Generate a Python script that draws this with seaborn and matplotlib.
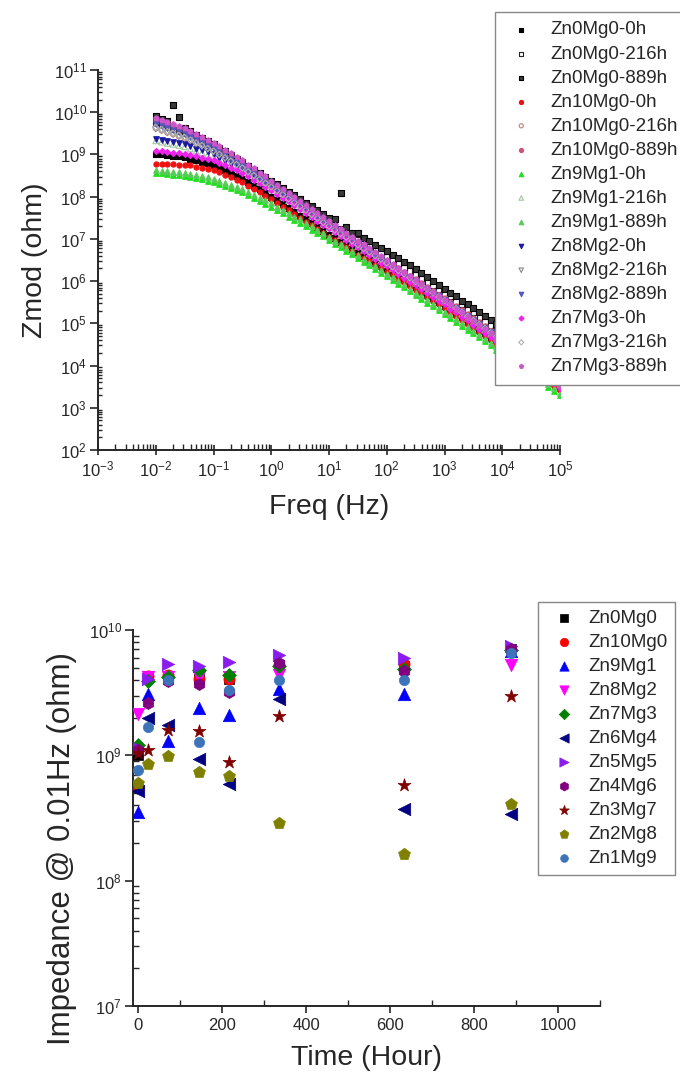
import numpy as np
import pandas as pd
import matplotlib
matplotlib.use("Agg")
import matplotlib.pyplot as plt
import seaborn as sns
from matplotlib.ticker import LogLocator, MultipleLocator, NullFormatter

# ---------------------------------------------------------------- data
# Bode sweep: log10 of frequency (Hz), 10 points per decade
log_freq = [-2.0, -1.9, -1.8, -1.7, -1.6, -1.5, -1.4, -1.3, -1.2, -1.1,
            -1.0, -0.9, -0.8, -0.7, -0.6, -0.5, -0.4, -0.3, -0.2, -0.1,
            0.0, 0.1, 0.2, 0.3, 0.4, 0.5, 0.6, 0.7, 0.8, 0.9,
            1.0, 1.1, 1.2, 1.3, 1.4, 1.5, 1.6, 1.7, 1.8, 1.9,
            2.0, 2.1, 2.2, 2.3, 2.4, 2.5, 2.6, 2.7, 2.8, 2.9,
            3.0, 3.1, 3.2, 3.3, 3.4, 3.5, 3.6, 3.7, 3.8, 3.9,
            4.0, 4.1, 4.2, 4.3, 4.4, 4.5, 4.6, 4.7, 4.8, 4.9, 5.0]

# log10 |Z| (ohm) for each coating and immersion time
zn0mg0_0h = [9.02, 9.00, 8.99, 8.97, 8.96, 8.94, 8.90, 8.87, 8.83, 8.79,
             8.76, 8.69, 8.62, 8.56, 8.49, 8.42, 8.34, 8.25, 8.17, 8.08,
             8.00, 7.91, 7.82, 7.73, 7.64, 7.55, 7.46, 7.37, 7.28, 7.19,
             7.10, 7.02, 6.93, 6.85, 6.76, 6.68, 6.60, 6.52, 6.44, 6.36,
             6.28, 6.19, 6.11, 6.02, 5.94, 5.85, 5.76, 5.68, 5.59, 5.51,
             5.42, 5.33, 5.23, 5.14, 5.04, 4.95, 4.85, 4.76, 4.66, 4.57,
             4.47, 4.37, 4.27, 4.18, 4.08, 3.98, 3.88, 3.78, 3.68, 3.58, 3.48]
zn0mg0_216h = [9.75, 9.70, 9.65, 9.60, 9.55, 9.50, 9.44, 9.37, 9.31, 9.24,
               9.18, 9.10, 9.02, 8.94, 8.86, 8.78, 8.69, 8.60, 8.50, 8.41,
               8.32, 8.23, 8.14, 8.05, 7.96, 7.87, 7.78, 7.69, 7.60, 7.51,
               7.42, 7.33, 7.25, 7.16, 7.08, 6.99, 6.91, 6.83, 6.74, 6.66,
               6.58, 6.50, 6.41, 6.33, 6.24, 6.16, 6.07, 5.98, 5.90, 5.81,
               5.72, 5.63, 5.53, 5.44, 5.34, 5.25, 5.15, 5.05, 4.96, 4.86,
               4.76, 4.66, 4.56, 4.46, 4.36, 4.26, 4.16, 4.06, 3.95, 3.85, 3.75]
zn0mg0_889h = [9.90, 9.85, 9.80, 10.17, 9.88, 9.62, 9.55, 9.47, 9.39, 9.32,
               9.24, 9.16, 9.07, 8.99, 8.90, 8.82, 8.73, 8.64, 8.56, 8.47,
               8.38, 8.29, 8.21, 8.12, 8.04, 7.95, 7.86, 7.77, 7.68, 7.59,
               7.50, 7.48, 8.09, 7.29, 7.15, 7.13, 7.02, 6.94, 6.86, 6.79,
               6.72, 6.63, 6.54, 6.46, 6.37, 6.28, 6.19, 6.10, 6.00, 5.91,
               5.82, 5.73, 5.64, 5.54, 5.45, 5.36, 5.26, 5.17, 5.07, 4.98,
               4.88, 4.78, 4.68, 4.58, 4.48, 4.38, 4.28, 4.18, 4.08, 3.98, 3.88]
zn10mg0_0h = [8.78, 8.78, 8.77, 8.77, 8.76, 8.76, 8.74, 8.71, 8.69, 8.66,
              8.64, 8.58, 8.52, 8.46, 8.40, 8.34, 8.26, 8.18, 8.10, 8.02,
              7.94, 7.85, 7.76, 7.68, 7.59, 7.50, 7.41, 7.32, 7.23, 7.14,
              7.05, 6.97, 6.88, 6.80, 6.71, 6.63, 6.55, 6.47, 6.38, 6.30,
              6.22, 6.14, 6.05, 5.97, 5.88, 5.80, 5.71, 5.62, 5.54, 5.45,
              5.36, 5.27, 5.17, 5.08, 4.98, 4.89, 4.79, 4.70, 4.60, 4.51,
              4.41, 4.31, 4.21, 4.12, 4.02, 3.92, 3.82, 3.72, 3.62, 3.52, 3.42]
zn10mg0_216h = [9.62, 9.57, 9.52, 9.48, 9.43, 9.38, 9.32, 9.26, 9.20, 9.14,
                9.08, 9.00, 8.93, 8.85, 8.78, 8.70, 8.61, 8.52, 8.42, 8.33,
                8.24, 8.15, 8.06, 7.96, 7.87, 7.78, 7.69, 7.60, 7.50, 7.41,
                7.32, 7.23, 7.14, 7.06, 6.97, 6.88, 6.79, 6.71, 6.62, 6.54,
                6.45, 6.36, 6.27, 6.19, 6.10, 6.01, 5.92, 5.83, 5.75, 5.66,
                5.57, 5.48, 5.38, 5.29, 5.19, 5.10, 5.00, 4.91, 4.81, 4.72,
                4.62, 4.52, 4.42, 4.32, 4.22, 4.12, 4.02, 3.92, 3.82, 3.72, 3.62]
zn10mg0_889h = [9.85, 9.80, 9.74, 9.69, 9.63, 9.58, 9.51, 9.44, 9.36, 9.29,
                9.22, 9.14, 9.05, 8.97, 8.88, 8.80, 8.71, 8.62, 8.52, 8.43,
                8.34, 8.24, 8.15, 8.05, 7.96, 7.86, 7.76, 7.67, 7.57, 7.48,
                7.38, 7.29, 7.20, 7.10, 7.01, 6.92, 6.83, 6.74, 6.66, 6.57,
                6.48, 6.39, 6.30, 6.22, 6.13, 6.04, 5.95, 5.86, 5.77, 5.68,
                5.59, 5.50, 5.40, 5.31, 5.21, 5.12, 5.02, 4.93, 4.83, 4.74,
                4.64, 4.54, 4.44, 4.34, 4.24, 4.14, 4.04, 3.94, 3.84, 3.74, 3.64]
zn9mg1_0h = [8.56, 8.55, 8.54, 8.52, 8.51, 8.50, 8.47, 8.44, 8.41, 8.38,
             8.35, 8.30, 8.25, 8.20, 8.15, 8.10, 8.03, 7.96, 7.90, 7.83,
             7.76, 7.68, 7.61, 7.53, 7.45, 7.38, 7.30, 7.22, 7.14, 7.06,
             6.98, 6.89, 6.81, 6.72, 6.64, 6.55, 6.46, 6.37, 6.29, 6.20,
             6.11, 6.02, 5.93, 5.85, 5.76, 5.67, 5.58, 5.49, 5.40, 5.31,
             5.22, 5.13, 5.04, 4.94, 4.85, 4.76, 4.67, 4.57, 4.48, 4.38,
             4.29, 4.19, 4.09, 4.00, 3.90, 3.80, 3.70, 3.60, 3.50, 3.40, 3.30]
zn9mg1_216h = [9.32, 9.29, 9.26, 9.24, 9.21, 9.18, 9.13, 9.08, 9.04, 8.99,
               8.94, 8.87, 8.80, 8.74, 8.67, 8.60, 8.51, 8.43, 8.34, 8.26,
               8.17, 8.08, 7.99, 7.90, 7.81, 7.72, 7.63, 7.54, 7.44, 7.35,
               7.26, 7.17, 7.08, 7.00, 6.91, 6.82, 6.73, 6.65, 6.56, 6.48,
               6.39, 6.30, 6.21, 6.13, 6.04, 5.95, 5.86, 5.77, 5.68, 5.59,
               5.50, 5.41, 5.31, 5.22, 5.12, 5.03, 4.93, 4.84, 4.74, 4.65,
               4.55, 4.45, 4.35, 4.25, 4.15, 4.05, 3.95, 3.85, 3.75, 3.65, 3.55]
zn9mg1_889h = [8.62, 8.61, 8.60, 8.59, 8.58, 8.57, 8.54, 8.51, 8.49, 8.46,
               8.43, 8.38, 8.33, 8.28, 8.23, 8.18, 8.11, 8.04, 7.98, 7.91,
               7.84, 7.76, 7.69, 7.61, 7.53, 7.46, 7.38, 7.30, 7.21, 7.13,
               7.05, 6.96, 6.88, 6.79, 6.71, 6.62, 6.53, 6.44, 6.36, 6.27,
               6.18, 6.09, 6.00, 5.91, 5.82, 5.73, 5.64, 5.55, 5.46, 5.37,
               5.28, 5.19, 5.10, 5.00, 4.91, 4.82, 4.73, 4.63, 4.54, 4.44,
               4.35, 4.25, 4.15, 4.06, 3.96, 3.86, 3.76, 3.66, 3.56, 3.46, 3.36]
zn8mg2_0h = [9.36, 9.34, 9.31, 9.29, 9.26, 9.24, 9.19, 9.14, 9.10, 9.05,
             9.00, 8.92, 8.85, 8.77, 8.70, 8.62, 8.53, 8.44, 8.36, 8.27,
             8.18, 8.09, 8.00, 7.90, 7.81, 7.72, 7.63, 7.53, 7.44, 7.34,
             7.25, 7.16, 7.07, 6.99, 6.90, 6.81, 6.72, 6.64, 6.55, 6.47,
             6.38, 6.29, 6.20, 6.12, 6.03, 5.94, 5.85, 5.76, 5.67, 5.58,
             5.49, 5.40, 5.30, 5.21, 5.11, 5.02, 4.92, 4.83, 4.73, 4.64,
             4.54, 4.44, 4.34, 4.24, 4.14, 4.04, 3.94, 3.84, 3.74, 3.64, 3.54]
zn8mg2_216h = [9.60, 9.56, 9.51, 9.47, 9.42, 9.38, 9.32, 9.25, 9.19, 9.12,
               9.06, 8.98, 8.90, 8.82, 8.74, 8.66, 8.57, 8.48, 8.39, 8.30,
               8.21, 8.12, 8.03, 7.93, 7.84, 7.75, 7.66, 7.56, 7.47, 7.37,
               7.28, 7.19, 7.10, 7.02, 6.93, 6.84, 6.75, 6.67, 6.58, 6.50,
               6.41, 6.32, 6.23, 6.15, 6.06, 5.97, 5.88, 5.79, 5.70, 5.61,
               5.52, 5.43, 5.33, 5.24, 5.14, 5.05, 4.95, 4.86, 4.76, 4.67,
               4.57, 4.47, 4.37, 4.27, 4.17, 4.07, 3.97, 3.87, 3.77, 3.67, 3.57]
zn8mg2_889h = [9.72, 9.67, 9.62, 9.58, 9.53, 9.48, 9.41, 9.34, 9.28, 9.21,
               9.14, 9.06, 8.98, 8.89, 8.81, 8.73, 8.64, 8.55, 8.45, 8.36,
               8.27, 8.18, 8.08, 7.99, 7.89, 7.80, 7.71, 7.61, 7.52, 7.42,
               7.33, 7.24, 7.15, 7.06, 6.97, 6.88, 6.79, 6.70, 6.62, 6.53,
               6.44, 6.35, 6.26, 6.18, 6.09, 6.00, 5.91, 5.82, 5.73, 5.64,
               5.55, 5.46, 5.36, 5.27, 5.17, 5.08, 4.98, 4.89, 4.79, 4.70,
               4.60, 4.50, 4.40, 4.30, 4.20, 4.10, 4.00, 3.90, 3.80, 3.70, 3.60]
zn7mg3_0h = [9.08, 9.07, 9.06, 9.04, 9.03, 9.02, 8.99, 8.96, 8.92, 8.89,
             8.86, 8.80, 8.74, 8.68, 8.62, 8.56, 8.48, 8.40, 8.32, 8.24,
             8.16, 8.07, 7.98, 7.89, 7.80, 7.71, 7.62, 7.53, 7.43, 7.34,
             7.25, 7.16, 7.07, 6.98, 6.89, 6.80, 6.71, 6.62, 6.53, 6.44,
             6.35, 6.26, 6.17, 6.08, 5.99, 5.90, 5.81, 5.72, 5.63, 5.54,
             5.45, 5.35, 5.26, 5.16, 5.07, 4.97, 4.87, 4.77, 4.68, 4.58,
             4.48, 4.38, 4.28, 4.18, 4.08, 3.98, 3.88, 3.78, 3.68, 3.58, 3.48]
zn7mg3_216h = [9.64, 9.59, 9.54, 9.50, 9.45, 9.40, 9.34, 9.27, 9.21, 9.14,
               9.08, 9.00, 8.92, 8.84, 8.76, 8.68, 8.59, 8.50, 8.41, 8.32,
               8.23, 8.14, 8.05, 7.95, 7.86, 7.77, 7.68, 7.58, 7.49, 7.39,
               7.30, 7.21, 7.12, 7.04, 6.95, 6.86, 6.77, 6.69, 6.60, 6.52,
               6.43, 6.34, 6.25, 6.17, 6.08, 5.99, 5.90, 5.81, 5.72, 5.63,
               5.54, 5.45, 5.35, 5.26, 5.16, 5.07, 4.97, 4.88, 4.78, 4.69,
               4.59, 4.49, 4.39, 4.29, 4.19, 4.09, 3.99, 3.89, 3.79, 3.69, 3.59]
zn7mg3_889h = [9.86, 9.81, 9.76, 9.72, 9.67, 9.62, 9.55, 9.48, 9.42, 9.35,
               9.28, 9.20, 9.11, 9.03, 8.94, 8.86, 8.76, 8.67, 8.57, 8.48,
               8.38, 8.28, 8.19, 8.09, 8.00, 7.90, 7.80, 7.71, 7.61, 7.52,
               7.42, 7.33, 7.24, 7.14, 7.05, 6.96, 6.87, 6.78, 6.68, 6.59,
               6.50, 6.41, 6.31, 6.22, 6.12, 6.03, 5.93, 5.84, 5.74, 5.65,
               5.55, 5.45, 5.35, 5.26, 5.16, 5.06, 4.96, 4.86, 4.76, 4.66,
               4.56, 4.46, 4.35, 4.25, 4.14, 4.04, 3.94, 3.83, 3.73, 3.62, 3.52]

bode_labels = ["Zn0Mg0-0h", "Zn0Mg0-216h", "Zn0Mg0-889h",
               "Zn10Mg0-0h", "Zn10Mg0-216h", "Zn10Mg0-889h",
               "Zn9Mg1-0h", "Zn9Mg1-216h", "Zn9Mg1-889h",
               "Zn8Mg2-0h", "Zn8Mg2-216h", "Zn8Mg2-889h",
               "Zn7Mg3-0h", "Zn7Mg3-216h", "Zn7Mg3-889h"]

# Impedance at 0.01 Hz versus immersion time
time_h = [0, 24, 72, 144, 216, 336, 633, 889]
imp_zn0mg0 = [1.0e9, 4.3e9, 4.3e9, 4.1e9, 4.1e9, 5.3e9, 5.2e9, 7.0e9]
imp_zn10mg0 = [5.6e8, 4.3e9, 4.4e9, 4.1e9, 4.1e9, 5.3e9, 5.4e9, 6.9e9]
imp_zn9mg1 = [3.5e8, 3.1e9, 1.3e9, 2.4e9, 2.1e9, 3.4e9, 3.1e9, 6.8e9]
imp_zn8mg2 = [2.15e9, 4.2e9, 4.2e9, 4.2e9, 4.2e9, 4.4e9, 4.4e9, 5.3e9]
imp_zn7mg3 = [1.2e9, 3.9e9, 4.2e9, 4.8e9, 4.4e9, 5.2e9, 4.9e9, 6.9e9]
imp_zn6mg4 = [5.2e8, 2.0e9, 1.75e9, 9.4e8, 5.9e8, 2.8e9, 3.7e8, 3.4e8]
imp_zn5mg5 = [1.15e9, 4.1e9, 5.4e9, 5.2e9, 5.6e9, 6.3e9, 6.0e9, 7.4e9]
imp_zn4mg6 = [1.1e9, 2.6e9, 3.9e9, 3.7e9, 3.2e9, 5.5e9, 4.7e9, 7.0e9]
imp_zn3mg7 = [1.05e9, 1.1e9, 1.58e9, 1.55e9, 8.8e8, 2.05e9, 5.8e8, 3.0e9]
imp_zn2mg8 = [6.0e8, 8.5e8, 9.8e8, 7.3e8, 6.9e8, 2.9e8, 1.63e8, 4.1e8]
imp_zn1mg9 = [7.7e8, 1.67e9, 4.0e9, 1.27e9, 3.3e9, 4.0e9, 4.0e9, 6.5e9]

alloy_labels = ["Zn0Mg0", "Zn10Mg0", "Zn9Mg1", "Zn8Mg2", "Zn7Mg3", "Zn6Mg4",
                "Zn5Mg5", "Zn4Mg6", "Zn3Mg7", "Zn2Mg8", "Zn1Mg9"]

# ---------------------------------------------------------------- style
sns.set_style("ticks")
plt.rcParams["font.family"] = ["Liberation Sans", "DejaVu Sans"]
plt.rcParams["mathtext.fontset"] = "custom"
plt.rcParams["mathtext.rm"] = "Liberation Sans"
plt.rcParams["mathtext.it"] = "Liberation Sans:italic"
plt.rcParams["axes.linewidth"] = 1.4

W, H = 680, 1079
fig = plt.figure(figsize=(W / 100, H / 100), dpi=100)
fig.patch.set_facecolor("white")


def frame(px_left, px_top, px_right, px_bottom):
    return [px_left / W, 1 - px_bottom / H, (px_right - px_left) / W,
            (px_bottom - px_top) / H]


# ---------------------------------------------------------------- Bode |Z|
ax1 = fig.add_axes(frame(98, 70, 560, 450))
freq = 10 ** np.asarray(log_freq)
bode_series = [zn0mg0_0h, zn0mg0_216h, zn0mg0_889h,
               zn10mg0_0h, zn10mg0_216h, zn10mg0_889h,
               zn9mg1_0h, zn9mg1_216h, zn9mg1_889h,
               zn8mg2_0h, zn8mg2_216h, zn8mg2_889h,
               zn7mg3_0h, zn7mg3_216h, zn7mg3_889h]
# (marker, face, edge, size)
bode_style = [("s", "#000000", "#000000", 14),
              ("s", "none", "#222222", 14),
              ("s", "#3a3a3a", "#000000", 14),
              ("o", "#ee1111", "#ee1111", 14),
              ("o", "none", "#c08080", 14),
              ("o", "#cc5577", "#cc5577", 14),
              ("^", "#22dd22", "#22dd22", 16),
              ("^", "none", "#a0c4a0", 16),
              ("^", "#55cc55", "#55cc55", 16),
              ("v", "#1a1aa0", "#1a1aa0", 16),
              ("v", "none", "#888888", 16),
              ("v", "#5555bb", "#5555bb", 16),
              ("D", "#ee22ee", "#ee22ee", 10),
              ("D", "none", "#b0b0b0", 10),
              ("p", "#cc55cc", "#cc55cc", 16)]

for lab, vals, (mk, fc, ec, sz) in zip(bode_labels, bode_series, bode_style):
    df = pd.DataFrame({"freq": freq, "zmod": 10 ** np.asarray(vals)})
    sns.scatterplot(data=df, x="freq", y="zmod", ax=ax1, marker=mk, s=sz,
                    facecolor=fc, edgecolor=ec, linewidth=0.8, label=lab,
                    legend=False, zorder=3)

ax1.set_xscale("log")
ax1.set_yscale("log")
ax1.set_xlim(1e-3, 1e5)
ax1.set_ylim(1e2, 1e11)
ax1.xaxis.set_major_locator(LogLocator(base=10, numticks=20))
ax1.yaxis.set_major_locator(LogLocator(base=10, numticks=20))
ax1.xaxis.set_minor_locator(LogLocator(base=10, subs=np.arange(2, 10), numticks=100))
ax1.yaxis.set_minor_locator(LogLocator(base=10, subs=np.arange(2, 10), numticks=100))
ax1.xaxis.set_minor_formatter(NullFormatter())
ax1.yaxis.set_minor_formatter(NullFormatter())
ax1.tick_params(axis="x", which="major", direction="inout", length=7, width=1.2,
                labelsize=12, pad=3)
ax1.tick_params(axis="x", which="minor", direction="in", length=4, width=1.0)
ax1.tick_params(axis="y", which="major", direction="out", length=6, width=1.2,
                labelsize=12, pad=2)
ax1.tick_params(axis="y", which="minor", direction="in", length=3, width=1.0)
sns.despine(ax=ax1)
ax1.set_xlabel("Freq (Hz)", fontsize=20.5, labelpad=11)
ax1.set_ylabel("Zmod (ohm)", fontsize=20.5, labelpad=4)

h1, l1 = ax1.get_legend_handles_labels()
leg1 = ax1.legend(h1, l1, loc="upper left", bbox_to_anchor=(495 / W, 1 - 12 / H),
                  bbox_transform=fig.transFigure, fontsize=13.5, frameon=True,
                  fancybox=False, edgecolor="#888888", framealpha=1,
                  borderaxespad=0, borderpad=0.5, handlelength=1.8,
                  handletextpad=0.65, labelspacing=0.37, markerscale=0.8,
                  scatterpoints=1)
leg1.get_frame().set_linewidth(1.0)

# ---------------------------------------------------------------- |Z| at 0.01 Hz
ax2 = fig.add_axes(frame(133, 630, 600, 1006))
alloy_series = [imp_zn0mg0, imp_zn10mg0, imp_zn9mg1, imp_zn8mg2, imp_zn7mg3,
                imp_zn6mg4, imp_zn5mg5, imp_zn4mg6, imp_zn3mg7, imp_zn2mg8,
                imp_zn1mg9]
alloy_style = [("s", "#000000", 60),
               ("o", "#ff0000", 65),
               ("^", "#0000ff", 80),
               ("v", "#ff00ff", 80),
               ("D", "#008000", 50),
               ("<", "#000080", 80),
               (">", "#8a1cf0", 80),
               ("h", "#800080", 75),
               ("*", "#800000", 95),
               ("p", "#808000", 80),
               ("o", "#3d73b8", 55)]

for lab, vals, (mk, col, sz) in zip(alloy_labels, alloy_series, alloy_style):
    df = pd.DataFrame({"time": time_h, "imp": vals})
    sns.scatterplot(data=df, x="time", y="imp", ax=ax2, marker=mk, s=sz,
                    color=col, edgecolor=col, linewidth=0.5, label=lab,
                    legend=False, zorder=3)

ax2.set_yscale("log")
ax2.set_xlim(-12, 1100)
ax2.set_ylim(1e7, 1e10)
ax2.xaxis.set_major_locator(MultipleLocator(200))
ax2.xaxis.set_minor_locator(MultipleLocator(100))
ax2.yaxis.set_major_locator(LogLocator(base=10, numticks=10))
ax2.yaxis.set_minor_locator(LogLocator(base=10, subs=np.arange(2, 10), numticks=100))
ax2.yaxis.set_minor_formatter(NullFormatter())
ax2.tick_params(axis="x", which="major", direction="out", length=5, width=1.2,
                labelsize=12, pad=4)
ax2.tick_params(axis="x", which="minor", direction="in", length=4, width=1.0)
ax2.tick_params(axis="y", which="major", direction="out", length=6, width=1.2,
                labelsize=12, pad=2)
ax2.tick_params(axis="y", which="minor", direction="in", length=4, width=1.0)
sns.despine(ax=ax2)
ax2.set_xlabel("Time (Hour)", fontsize=20.5, labelpad=8)
ax2.set_ylabel("Impedance @ 0.01Hz (ohm)", fontsize=22.5)
ax2.yaxis.set_label_coords(-0.12, 0.42)

h2, l2 = ax2.get_legend_handles_labels()
leg2 = ax2.legend(h2, l2, loc="upper left", bbox_to_anchor=(538 / W, 1 - 602 / H),
                  bbox_transform=fig.transFigure, fontsize=13.5, frameon=True,
                  fancybox=False, edgecolor="#888888", framealpha=1,
                  borderaxespad=0, borderpad=0.4, handlelength=2.0,
                  handletextpad=0.3, labelspacing=0.37, markerscale=0.75,
                  scatterpoints=1)
leg2.get_frame().set_linewidth(1.0)

fig.savefig("out.png", dpi=100)
